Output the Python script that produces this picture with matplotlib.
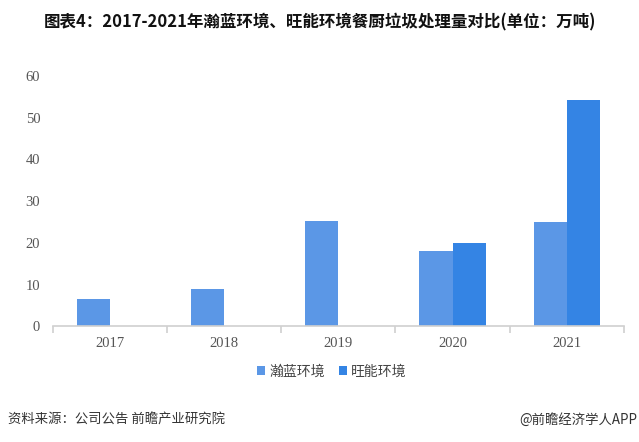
import matplotlib
matplotlib.use("Agg")
import matplotlib.pyplot as plt
import numpy as np

plt.rcParams['font.family'] = ['Noto Sans CJK SC', 'DejaVu Sans']

years = ["2017", "2018", "2019", "2020", "2021"]
hanlan = [6.6, 8.9, 25.3, 18.1, 25.0]
wangneng = [None, None, None, 20.0, 54.3]
series_names = ["瀚蓝环境", "旺能环境"]
colors = ["#5b97e6", "#3484e4"]

fig = plt.figure(figsize=(6.39, 4.42), dpi=100)
ax = fig.add_axes([0.0825, 0.262, 0.894, 0.566])

x = np.arange(len(years))
w = 0.29
ax.bar(x - w / 2, hanlan, w, color=colors[0], label=series_names[0])
wx = [xi + w / 2 for xi, v in zip(x, wangneng) if v is not None]
wv = [v for v in wangneng if v is not None]
ax.bar(wx, wv, w, color=colors[1], label=series_names[1])

ax.set_xlim(-0.5, len(years) - 0.5)
ax.set_ylim(0, 60)
ax.set_yticks(range(0, 61, 10))
for s in ["top", "right", "left"]:
    ax.spines[s].set_visible(False)
ax.spines["bottom"].set_color("#d0d0d0")
ax.spines["bottom"].set_linewidth(1.2)

ax.set_xticks(x)
ax.set_xticklabels(years)
ax.set_xticks(np.arange(-0.5, len(years)), minor=True)
ax.tick_params(axis="x", which="major", length=0, pad=8)
ax.tick_params(axis="x", which="minor", length=5, color="#d0d0d0", width=1.2)
ax.tick_params(axis="y", length=0, pad=9)
for lab in ax.get_xticklabels() + ax.get_yticklabels():
    lab.set_fontfamily("Liberation Serif")
    lab.set_fontsize(10.5)
    lab.set_color("#555555")

fig.text(0.5, 0.950, "图表4：2017-2021年瀚蓝环境、旺能环境餐厨垃圾处理量对比(单位：万吨)",
         ha="center", va="center", fontsize=11.9, fontweight="bold", color="#111111")

leg = fig.legend(loc="center", bbox_to_anchor=(0.519, 0.16), ncol=2, frameon=False,
                 fontsize=10, handlelength=0.6, handleheight=0.6, handletextpad=0.3,
                 columnspacing=1.0)
for t in leg.get_texts():
    t.set_color("#444444")

fig.text(0.012, 0.05, "资料来源：公司公告 前瞻产业研究院", ha="left", va="center",
         fontsize=9.6, color="#333333")
fig.text(0.998, 0.05, "@前瞻经济学人APP", ha="right", va="center",
         fontsize=9.6, color="#333333")

fig.savefig("out.png", dpi=100)
